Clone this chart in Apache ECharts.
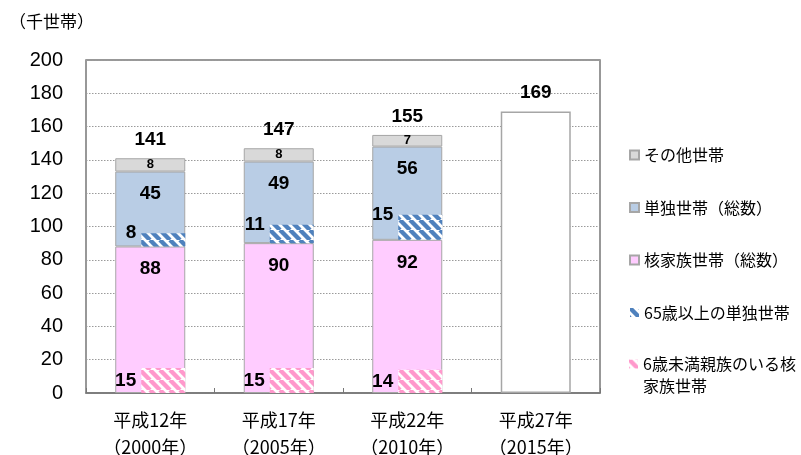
<!DOCTYPE html>
<html>
<head>
<meta charset="utf-8">
<script src="https://cdn.jsdelivr.net/npm/echarts@6/dist/echarts.min.js"></script>
<style>
html,body{margin:0;padding:0;background:#fff;}
#chart{width:801px;height:455px;}
</style>
</head>
<body>
<div id="chart"></div>
<script>
// ---- data ----
const categories = ['平成12年\n（2000年）', '平成17年\n（2005年）', '平成22年\n（2010年）', '平成27年\n（2015年）'];
const nuclearTotal = [88, 90, 92, null];        // 核家族世帯（総数）
const singleTotal = [45, 49, 56, null];         // 単独世帯（総数）
const otherHouseholds = [8, 8, 7, null];        // その他世帯
const total2015 = [null, null, null, 169];      // 平成27年 総数
const totals = [141, 147, 155, 169];            // 総数ラベル
const elderlySingle = [8, 11, 15, null];        // 65歳以上の単独世帯
const youngChildNuclear = [15, 15, 14, null];   // 6歳未満親族のいる核家族世帯
const yMin = 0, yMax = 200, yStep = 20;
const unitLabel = '（千世帯）';
const legendMain = ['その他世帯', '単独世帯（総数）', '核家族世帯（総数）', '65歳以上の単独世帯'];
const legendLast = '6歳未満親族のいる核家族世帯';
const legendLastText = ' \n6歳未満親族のいる核\n家族世帯';

// ---- helpers ----
function hatch(color) {
  const s = 10;
  const c = document.createElement('canvas');
  c.width = s; c.height = s;
  const ctx = c.getContext('2d');
  ctx.fillStyle = '#ffffff';
  ctx.fillRect(0, 0, s, s);
  ctx.strokeStyle = color;
  ctx.lineWidth = 4.4;
  ctx.beginPath();
  for (let k = -1; k <= 1; k++) { ctx.moveTo(k * s, 0); ctx.lineTo(k * s + s, s); }
  ctx.stroke();
  return { image: c, repeat: 'repeat' };
}
const numFont = '"Liberation Sans", "Noto Sans CJK JP", sans-serif';
const jpFont = '"Noto Sans CJK JP", sans-serif';
const baseBeneathElderly = nuclearTotal.map((v, i) => v == null ? null : v - youngChildNuclear[i]);
const zeros = totals.map(() => 0);
const gapDummy = categories.map(() => 0);

const chart = echarts.init(document.getElementById('chart'), null, { renderer: 'canvas' });
const borderGray = '#a6a6a6';
const bigLabel = { fontSize: 19, fontWeight: 'bold', color: '#000', fontFamily: numFont };
const legendText = { fontSize: 16, color: '#000', fontFamily: jpFont, lineHeight: 22 };

chart.setOption({
  animation: false,
  textStyle: { fontFamily: jpFont },
  grid: { left: 86, right: 201, top: 60, bottom: 62, outerBoundsMode: 'none', containLabel: false, show: true, borderColor: '#777777', borderWidth: 1.5, backgroundColor: 'transparent' },
  graphic: [{ type: 'text', left: 9, top: 13, style: { text: unitLabel, font: '17px "Noto Sans CJK JP"', fill: '#000' } }],
  legend: [
    {
      orient: 'vertical', left: 629, top: 144, padding: 0, itemWidth: 9, itemHeight: 9, itemGap: 30.5,
      icon: 'rect', selectedMode: false, textStyle: legendText,
      data: legendMain
    },
    {
      orient: 'vertical', left: 629, top: 331, padding: 0, itemWidth: 9, itemHeight: 9,
      icon: 'rect', selectedMode: false, textStyle: legendText,
      data: [legendLast],
      formatter: () => legendLastText
    }
  ],
  xAxis: [
    {
      type: 'category', data: categories,
      axisLine: { show: true, lineStyle: { color: '#777777', width: 1.5 } },
      axisTick: { show: true, inside: true, length: 5, lineStyle: { color: '#777777' } },
      axisLabel: { color: '#000', fontSize: 18, lineHeight: 27, margin: 14, fontFamily: jpFont }
    },
    { type: 'category', data: categories, show: false }
  ],
  yAxis: {
    type: 'value', min: yMin, max: yMax, interval: yStep,
    axisLine: { show: false }, axisTick: { show: false },
    axisLabel: { color: '#000', fontSize: 20, margin: 23, fontFamily: numFont },
    splitLine: { show: true, lineStyle: { color: '#9a9a9a', type: [1.5, 1.5], width: 1 } }
  },
  series: [
    {
      name: '核家族世帯（総数）', type: 'bar', stack: 'main', barWidth: 70, xAxisIndex: 0,
      data: nuclearTotal,
      itemStyle: { color: '#ffccff', borderColor: borderGray, borderWidth: 1 },
      label: { show: true, position: 'insideTop', distance: 13, ...bigLabel }
    },
    {
      name: '単独世帯（総数）', type: 'bar', stack: 'main', barWidth: 70, xAxisIndex: 0,
      data: singleTotal,
      itemStyle: { color: '#b9cde5', borderColor: borderGray, borderWidth: 1 },
      label: { show: true, position: 'insideTop', distance: 13, ...bigLabel }
    },
    {
      name: 'その他世帯', type: 'bar', stack: 'main', barWidth: 70, xAxisIndex: 0,
      data: otherHouseholds,
      itemStyle: { color: '#d9d9d9', borderColor: borderGray, borderWidth: 1 },
      label: { show: true, position: 'inside', fontSize: 13, fontWeight: 'bold', color: '#000', fontFamily: numFont }
    },
    {
      name: '総数2015', type: 'bar', stack: 'main', barWidth: 70, xAxisIndex: 0,
      data: total2015,
      itemStyle: { color: '#ffffff', borderColor: borderGray, borderWidth: 1.5 }
    },
    {
      name: '総数', type: 'bar', stack: 'main', barWidth: 70, xAxisIndex: 0,
      data: zeros.map((z, i) => ({ value: z, label: { formatter: String(totals[i]) } })),
      itemStyle: { color: 'transparent', borderWidth: 0 },
      label: { show: true, position: 'top', distance: 9, ...bigLabel }
    },
    // overlay bars (right part of each bar)
    {
      name: 'gap', type: 'bar', stack: 'gap', barWidth: 26, barGap: '0%', xAxisIndex: 1,
      data: gapDummy, itemStyle: { color: 'transparent', borderWidth: 0 }, silent: true
    },
    {
      name: legendLast, type: 'bar', stack: 'ov', barWidth: 44, barGap: '0%', xAxisIndex: 1,
      data: youngChildNuclear,
      itemStyle: { color: hatch('#ff99cc') },
      label: { show: true, position: 'left', distance: 5, ...bigLabel }
    },
    {
      name: 'base', type: 'bar', stack: 'ov', barWidth: 44, barGap: '0%', xAxisIndex: 1,
      data: baseBeneathElderly, itemStyle: { color: 'transparent', borderWidth: 0 }, silent: true
    },
    {
      name: '65歳以上の単独世帯', type: 'bar', stack: 'ov', barWidth: 44, barGap: '0%', xAxisIndex: 1,
      data: elderlySingle,
      itemStyle: { color: hatch('#4f81bd') },
      label: { show: true, position: [-5, 0], align: 'right', verticalAlign: 'middle', ...bigLabel }
    }
  ]
});
</script>
</body>
</html>
